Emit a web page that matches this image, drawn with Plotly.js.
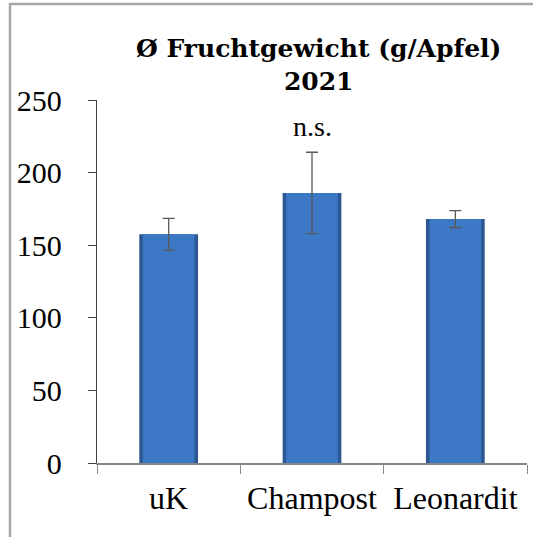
<!DOCTYPE html>
<html>
<head>
<meta charset="utf-8">
<script src="https://cdn.plot.ly/plotly-3.0.1.min.js"></script>
<style>html,body{margin:0;padding:0;background:#fff;}#chart{width:533px;height:537px;}</style>
</head>
<body>
<div id="chart"></div>
<script>
const categories = ["uK", "Champost", "Leonardit"];
const meanWeight = [157.5, 186, 168];
const errorSD = [11, 28, 5.8];
const yTicks = [0, 50, 100, 150, 200, 250];
const chartTitle = "Ø Fruchtgewicht (g/Apfel)<br>2021";
const sigLabel = "n.s.";
const sigCategory = "Champost";
const sigY = 232;

const serif = "Liberation Serif";
const serifBold = "DejaVu Serif";

const traces = [
  {
    type: "bar",
    x: categories,
    y: meanWeight,
    width: 0.41,
    marker: { color: "#2b5891", line: { width: 0 } },
    hoverinfo: "none"
  },
  {
    type: "bar",
    x: categories,
    y: meanWeight,
    width: 0.36,
    marker: { color: "#3d78c6", line: { width: 0 } },
    error_y: { type: "data", array: errorSD, visible: true, color: "#5a5a5a", thickness: 1.3, width: 6 },
    hoverinfo: "none"
  }
];

const layout = {
  width: 533,
  height: 537,
  margin: { l: 97, r: 6, t: 100, b: 74 },
  barmode: "overlay",
  paper_bgcolor: "#ffffff",
  plot_bgcolor: "#ffffff",
  showlegend: false,
  font: { family: serif, color: "#000000" },
  title: {
    text: chartTitle,
    font: { family: serifBold, size: 25, color: "#000000", weight: 700 },
    x: 0.598, xanchor: "center",
    y: 0.893, yanchor: "middle", yref: "container"
  },
  xaxis: {
    type: "category",
    tickson: "boundaries",
    ticks: "outside",
    ticklen: 9,
    tickcolor: "#888888",
    showline: true,
    linecolor: "#888888",
    linewidth: 1.5,
    showgrid: false,
    zeroline: false,
    tickfont: { family: serif, size: 32, color: "#000000" },
    ticklabelstandoff: 6
  },
  yaxis: {
    range: [0, 250],
    tickvals: yTicks,
    ticks: "outside",
    ticklen: 8,
    tickcolor: "#404040",
    showline: true,
    linecolor: "#404040",
    linewidth: 1.2,
    showgrid: false,
    zeroline: false,
    tickfont: { family: serif, size: 30, color: "#000000" },
    ticklabelstandoff: 20
  },
  annotations: [
    {
      x: sigCategory, y: sigY, xref: "x", yref: "y",
      text: sigLabel, showarrow: false,
      font: { family: serif, size: 28, color: "#000000" }
    }
  ],
  shapes: [
    {
      type: "rect", xref: "paper", yref: "paper",
      x0: -0.2023, x1: 1.2, y0: -0.5, y1: 1.2645,
      line: { color: "#a6a6a6", width: 2.5 }, fillcolor: "rgba(0,0,0,0)", layer: "below"
    }
  ]
};

Plotly.newPlot("chart", traces, layout, { displayModeBar: false, staticPlot: true });
</script>
</body>
</html>
